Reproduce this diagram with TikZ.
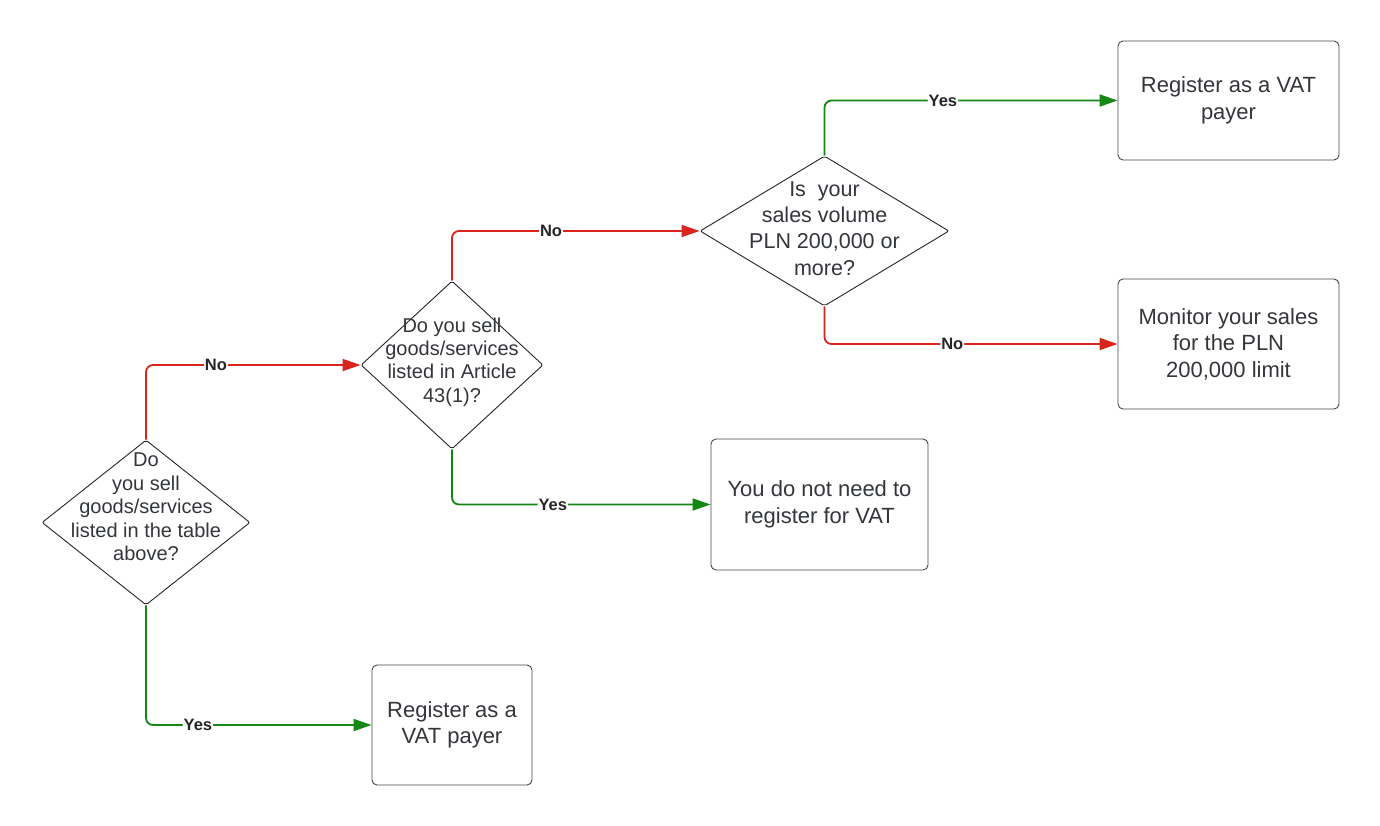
\documentclass[tikz,border=0pt]{standalone}
\usepackage{fontspec}
\setmainfont{Liberation Sans}
\usetikzlibrary{shapes.geometric,arrows.meta}
\definecolor{lred}{RGB}{217,37,30}
\definecolor{lgreen}{RGB}{20,135,20}
\definecolor{ltext}{RGB}{51,54,58}
\definecolor{lborder}{RGB}{70,70,70}
\tikzset{
  dia/.style={shape=diamond, draw=black!85, line width=0.9pt, fill=white, inner sep=0pt, rounded corners=2pt},
  dtext/.style={align=center, text=ltext, font=\fontsize{20}{23.4}\selectfont, inner sep=0pt},
  dtextb/.style={align=center, text=ltext, font=\fontsize{21.5}{26.3}\selectfont, inner sep=0pt},
  boxn/.style={draw=lborder, line width=0.9pt, rounded corners=5pt, align=center, text=ltext, font=\fontsize{22}{26.5}\selectfont, inner sep=0pt},
  conn/.style={line width=1.8pt, rounded corners=7pt, -{Triangle[length=18pt,width=12pt]}},
  nored/.style={conn, draw=lred},
  yesgreen/.style={conn, draw=lgreen},
  lbl/.style={fill=white, inner sep=1pt, text=black!85, font=\fontsize{16.5}{18}\selectfont\bfseries}
}
\begin{document}
\begin{tikzpicture}[x=1pt,y=-1pt]
\useasboundingbox (0,0) rectangle (1380,825);
\fill[white] (0,0) rectangle (1380,825);

% diamonds
\node[dia, minimum width=208pt, minimum height=165pt] (d1) at (146,522.5) {};
\node[dtext] (t1) at (146,507) {Do\\you sell\\goods/services\\listed in the table\\above?};

\node[dia, minimum width=182pt, minimum height=168pt] (d2) at (452,365) {};
\node[dtext] (t2) at (452,362) {Do you sell\\goods/services\\listed in Article\\43(1)?};

\node[dia, minimum width=249pt, minimum height=150pt] (d3) at (824.5,231) {};
\node[dtextb] (t3) at (824.5,228.5) {Is\ \ your\\sales volume\\PLN 200,000 or\\more?};

% boxes
\node[boxn, minimum width=160pt, minimum height=120pt] (a) at (452,725) {Register as a\\VAT payer};
\node[boxn, minimum width=217pt, minimum height=131pt] (b) at (819.5,504.5) {You do not need to\\register for VAT};
\node[boxn, minimum width=221pt, minimum height=119pt] (c) at (1228.5,100.5) {Register as a VAT\\payer};
\node[boxn, minimum width=221pt, minimum height=130pt] (d) at (1228.5,344) {Monitor your sales\\for the PLN\\200,000 limit};

% connectors
\draw[nored] (d1.north) |- (d2.west) node[lbl, pos=0.663] (l1) {No};
\draw[yesgreen] (d1.south) |- (a.west) node[lbl, pos=0.615] (l2) {Yes};
\draw[nored] (d2.north) |- (d3.west) node[lbl, pos=0.70] (l3) {No};
\draw[yesgreen] (d2.south) |- (b.west) node[lbl, pos=0.695] (l4) {Yes};
\draw[yesgreen] (d3.north) |- (c.west) node[lbl, pos=0.702] (l5) {Yes};
\draw[nored] (d3.south) |- (d.west) node[lbl, pos=0.718] (l6) {No};
\end{tikzpicture}
\end{document}
